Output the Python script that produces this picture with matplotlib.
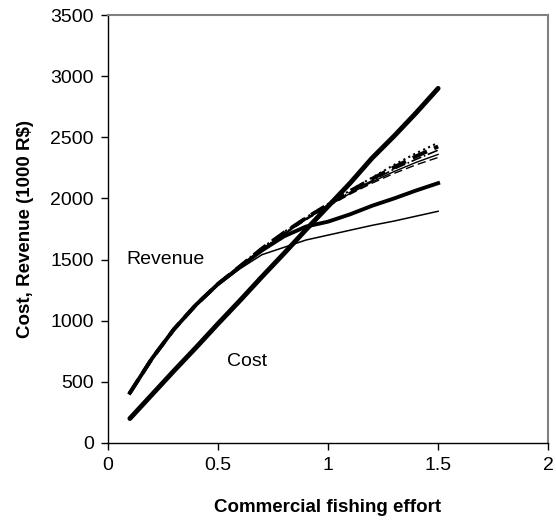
import matplotlib.pyplot as plt

plt.rcParams['font.family'] = ['Liberation Sans', 'DejaVu Sans']

# esfuerzo pesquero comercial
effort = [0.1, 0.2, 0.3, 0.4, 0.5, 0.6, 0.7, 0.8, 0.9, 1.0, 1.1, 1.2, 1.3, 1.4, 1.5]

cost = [200, 395, 590, 780, 975, 1165, 1360, 1550, 1745, 1935, 2125, 2330, 2510, 2700, 2900]

rev_dotted = [410, 690, 935, 1135, 1305, 1450, 1595, 1725, 1845, 1955, 2065, 2170, 2275, 2370, 2455]
rev_dash_thick = [410, 690, 930, 1130, 1300, 1445, 1590, 1720, 1840, 1950, 2060, 2160, 2255, 2345, 2425]
rev_dashdot = [405, 685, 930, 1130, 1300, 1445, 1585, 1715, 1835, 1945, 2050, 2145, 2240, 2320, 2395]
rev_thin_a = [405, 685, 925, 1125, 1295, 1440, 1580, 1710, 1830, 1940, 2040, 2135, 2220, 2295, 2360]
rev_dash_thin = [405, 685, 925, 1125, 1295, 1440, 1580, 1705, 1825, 1935, 2035, 2125, 2205, 2275, 2335]
rev_thick = [410, 690, 930, 1130, 1300, 1440, 1575, 1690, 1770, 1810, 1870, 1940, 2000, 2065, 2125]
rev_thin_b = [405, 685, 925, 1120, 1290, 1425, 1540, 1600, 1660, 1700, 1740, 1780, 1815, 1855, 1895]

fig = plt.figure(figsize=(5.56, 5.29), dpi=100)
ax = fig.add_axes([0.194, 0.1626, 0.792, 0.809])

ax.plot(effort, rev_thin_b, color='black', lw=1.1)
ax.plot(effort, rev_thick, color='black', lw=2.8)
ax.plot(effort, rev_dash_thin, color='black', lw=1.0, ls=(0, (6, 3)))
ax.plot(effort, rev_thin_a, color='black', lw=1.0)
ax.plot(effort, rev_dashdot, color='black', lw=1.2, ls='-.')
ax.plot(effort, rev_dash_thick, color='black', lw=2.8, ls=(0, (4, 2)))
ax.plot(effort, rev_dotted, color='black', lw=1.5, ls=':')
ax.plot(effort, cost, color='black', lw=3.5, solid_capstyle='round')

ax.text(0.086, 1500, 'Revenue', fontsize=14, va='center', ha='left')
ax.text(0.54, 670, 'Cost', fontsize=14, va='center', ha='left')

ax.set_xlim(0, 2)
ax.set_ylim(0, 3500)
ax.set_xticks([0, 0.5, 1, 1.5, 2])
ax.set_xticklabels(['0', '0.5', '1', '1.5', '2'])
ax.set_yticks(range(0, 3501, 500))
ax.tick_params(labelsize=14, direction='out', length=5, width=1, pad=5)

ax.set_xlabel('Commercial fishing effort', fontsize=13.5, fontweight='bold', labelpad=18)
ax.set_ylabel('Cost, Revenue (1000 R$)', fontsize=13.5, fontweight='bold', labelpad=12)

for s in ['top', 'right']:
    ax.spines[s].set_color('#808080')
    ax.spines[s].set_linewidth(1.5)
for s in ['left', 'bottom']:
    ax.spines[s].set_color('black')
    ax.spines[s].set_linewidth(1.0)

plt.savefig('out.png', dpi=100)
